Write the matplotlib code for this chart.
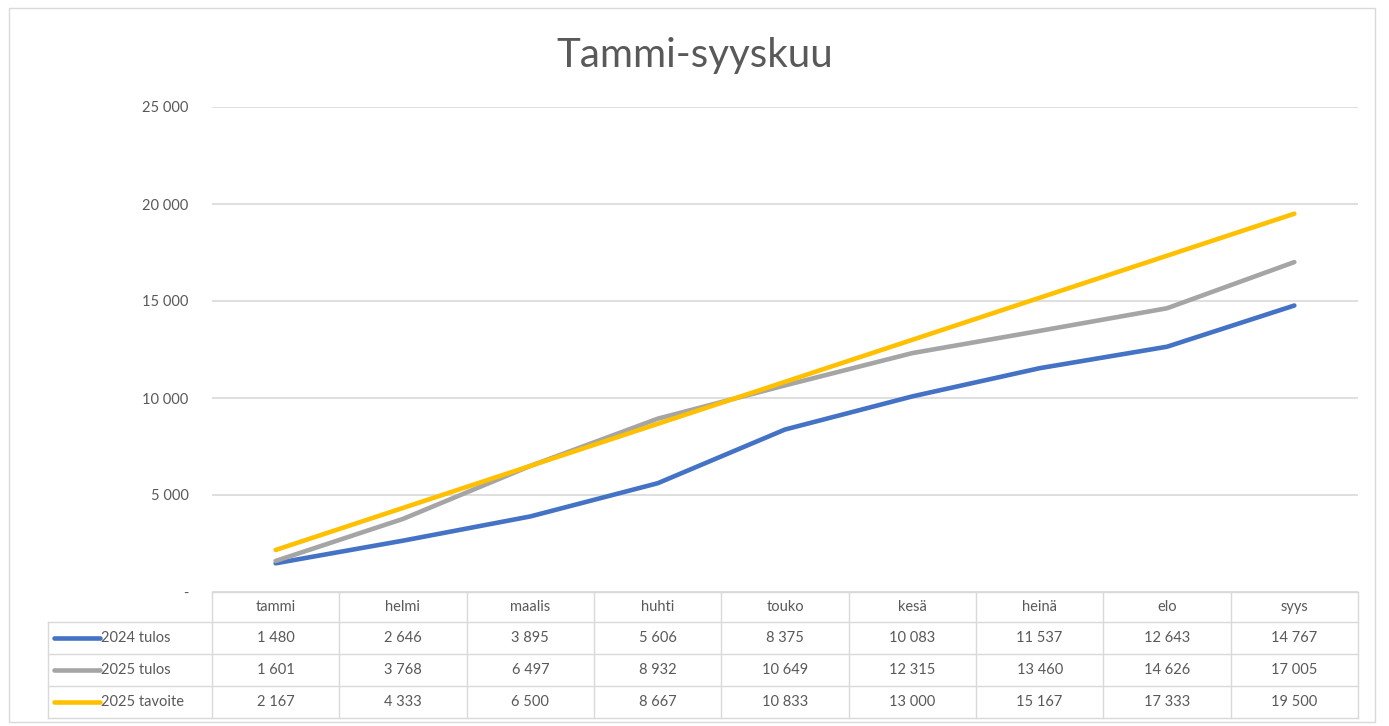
import matplotlib.pyplot as plt
from matplotlib.lines import Line2D
from matplotlib.patches import Rectangle

months = ["tammi", "helmi", "maalis", "huhti", "touko", "kesä", "heinä", "elo", "syys"]
tulos_2024 = [1480, 2646, 3895, 5606, 8375, 10083, 11537, 12643, 14767]
tulos_2025 = [1601, 3768, 6497, 8932, 10649, 12315, 13460, 14626, 17005]
tavoite_2025 = [2167, 4333, 6500, 8667, 10833, 13000, 15167, 17333, 19500]
series_names = ["2024 tulos", "2025 tulos", "2025 tavoite"]
y_ticks = [0, 5000, 10000, 15000, 20000, 25000]

colors = ["#4472C4", "#A5A5A5", "#FFC000"]
text_col = "#595959"
grid_col = "#D9D9D9"

plt.rcParams["font.family"] = ["Lato", "DejaVu Sans"]

W, H = 1389, 726
fig = plt.figure(figsize=(W / 100, H / 100), dpi=100)

def fx(px):
    return px / W

def fy(py):
    return 1 - py / H

# outer chart border
fig.patches.append(Rectangle((fx(9), fy(722)), fx(1375 - 9), fy(8) - fy(722),
                             transform=fig.transFigure, fill=False,
                             edgecolor=grid_col, linewidth=1))

left, right, top, bottom = 212, 1358, 107, 592
ax = fig.add_axes([fx(left), fy(bottom), fx(right - left), fy(top) - fy(bottom)])

x = list(range(len(months)))
for vals, c in zip([tulos_2024, tulos_2025, tavoite_2025], colors):
    ax.plot(x, vals, color=c, linewidth=3.3, solid_capstyle="round", zorder=3)

ax.set_xlim(-0.5, len(months) - 0.5)
ax.set_ylim(0, 25000)
ax.set_yticks(y_ticks)

def fmt(v):
    return "-" if v == 0 else f"{v:,}".replace(",", " ")

ax.set_yticklabels([fmt(v) for v in y_ticks], color=text_col, fontsize=10.5)
ax.tick_params(axis="y", length=0, pad=17)
ax.set_xticks([])
ax.grid(axis="y", color=grid_col, linewidth=1.2)
ax.set_axisbelow(True)
for s in ax.spines.values():
    s.set_visible(False)

fig.text(0.5, fy(55), "Tammi-syyskuu", ha="center", va="center",
         fontsize=29, color=text_col)

# data table below the plot
row_lines = [592, 622, 654, 686, 718]
label_left = 48
col_w = (right - left) / len(months)
lw_tab = 1.0

def hline(py, x0, x1):
    fig.add_artist(Line2D([fx(x0), fx(x1)], [fy(py), fy(py)], color=grid_col, linewidth=lw_tab))

def vline(px, y0, y1):
    fig.add_artist(Line2D([fx(px), fx(px)], [fy(y0), fy(y1)], color=grid_col, linewidth=lw_tab))

hline(row_lines[0], left, right)
for py in row_lines[1:]:
    hline(py, label_left, right)
vline(label_left, row_lines[1], row_lines[-1])
for i in range(len(months) + 1):
    vline(left + i * col_w, row_lines[0], row_lines[-1])

def row_mid(i):
    return (row_lines[i] + row_lines[i + 1]) / 2

for j, m in enumerate(months):
    fig.text(fx(left + (j + 0.5) * col_w), fy(row_mid(0)), m, ha="center", va="center",
             fontsize=10.5, color=text_col)

for i, (name, vals, c) in enumerate(zip(series_names, [tulos_2024, tulos_2025, tavoite_2025], colors)):
    ym = fy(row_mid(i + 1))
    fig.add_artist(Line2D([fx(54), fx(100)], [ym, ym], color=c, linewidth=3.3,
                          solid_capstyle="round"))
    fig.text(fx(101), ym, name, ha="left", va="center", fontsize=10.5, color=text_col)
    for j, v in enumerate(vals):
        fig.text(fx(left + (j + 0.5) * col_w), ym, fmt(v), ha="center", va="center",
                 fontsize=10.5, color=text_col)

fig.savefig("out.png", dpi=100)
